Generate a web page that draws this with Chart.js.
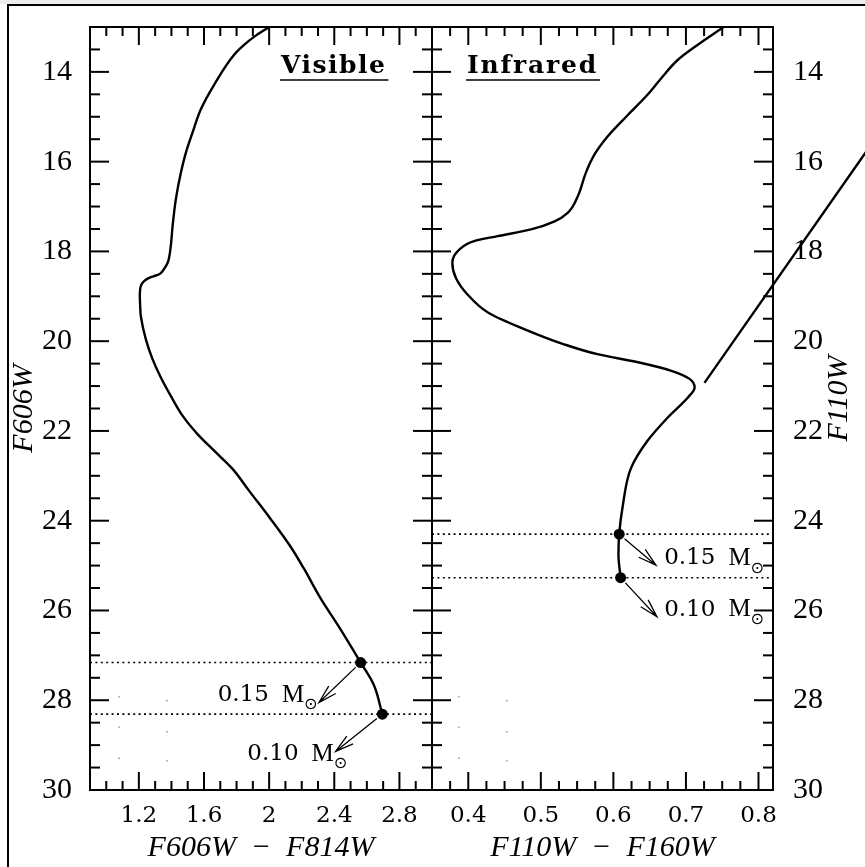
<!DOCTYPE html>
<html>
<head>
<meta charset="utf-8">
<script src="https://cdn.jsdelivr.net/npm/chart.js@4.4.1/dist/chart.umd.min.js"></script>
<style>
  html, body { margin: 0; padding: 0; background: #fff; }
  #wrap { position: relative; width: 865px; height: 867px; overflow: hidden; }
  #band { position: absolute; left: 0; top: 0; width: 865px; height: 4px; background: #eeeeee; }
  #frame { position: absolute; left: 7px; top: 4px; width: 900px; height: 900px;
           border-left: 2px solid #000; border-top: 2px solid #000; }
  canvas { position: absolute; left: 0; top: 0; }
</style>
</head>
<body>
<div id="wrap">
  <div id="band"></div>
  <div id="frame"></div>
  <canvas id="visChart" width="865" height="867"></canvas>
  <canvas id="irChart" width="865" height="867"></canvas>
</div>
<script>
// magnitude axis (shared)
const magTicks = [14, 16, 18, 20, 22, 24, 26, 28, 30];

// Visible panel: F606W vs F606W - F814W
const visColorTicks = [1.2, 1.6, 2, 2.4, 2.8];
const visColor = [2.0, 1.907, 1.846, 1.785, 1.662, 1.58, 1.529, 1.488, 1.458, 1.427, 1.407, 1.396,
  1.38, 1.366, 1.345, 1.325, 1.294, 1.263, 1.232, 1.212, 1.206, 1.208, 1.212, 1.243, 1.284, 1.335,
  1.396, 1.468, 1.56, 1.662, 1.774, 1.876, 2.009, 2.132, 2.214, 2.316, 2.428, 2.562, 2.643, 2.695];
const visMag = [13.0, 13.22, 13.4, 13.62, 14.29, 14.84, 15.36, 15.81, 16.25, 16.84, 17.44, 17.88,
  18.22, 18.33, 18.44, 18.51, 18.55, 18.59, 18.66, 18.77, 18.99, 19.22, 19.44, 19.96, 20.4, 20.81,
  21.22, 21.66, 22.07, 22.44, 22.84, 23.33, 23.96, 24.58, 25.07, 25.73, 26.36, 27.16, 27.66, 28.31];
const visMassColor = [2.562, 2.695];
const visMassMag = [27.16, 28.31];
const visTipColor = [2.306, 2.408];
const visTipMag = [28.05, 29.14];
const visLabelColor = [1.684, 1.866];
const visLabelMag = [27.89, 29.2];
const visFaintColor = [1.079, 1.372, 1.079, 1.372, 1.079, 1.372];
const visFaintMag = [27.92, 28.01, 28.6, 28.7, 29.29, 29.35];

// Infrared panel: F110W vs F110W - F160W
const irColorTicks = [0.4, 0.5, 0.6, 0.7, 0.8];
const irColor = [0.752, 0.716, 0.689, 0.666, 0.647, 0.62, 0.592, 0.574, 0.562, 0.551, 0.537, 0.519,
  0.4865, 0.4405, 0.408, 0.3876, 0.378, 0.383, 0.399, 0.427, 0.477, 0.532, 0.578, 0.634, 0.68,
  0.705, 0.712, 0.703, 0.675, 0.647, 0.624, 0.613, 0.608, 0.607, 0.61];
const irMag = [13.0, 13.4, 13.73, 14.14, 14.51, 14.96, 15.44, 15.84, 16.25, 16.77, 17.14, 17.33,
  17.51, 17.66, 17.77, 17.96, 18.25, 18.59, 18.96, 19.36, 19.73, 20.07, 20.29, 20.47, 20.66,
  20.84, 21.03, 21.25, 21.7, 22.22, 22.84, 23.66, 24.3, 24.77, 25.27];
const irMassColor = [0.608, 0.61];
const irMassMag = [24.3, 25.27];
const irTipColor = [0.6587, 0.66];
const irTipMag = [24.99, 26.14];
const irLabelColor = [0.67, 0.67];
const irLabelMag = [24.84, 25.98];
const irFaintColor = [0.387, 0.453, 0.387, 0.453, 0.387, 0.453];
const irFaintMag = [27.92, 28.01, 28.6, 28.7, 29.29, 29.35];
const strayColor = [0.7255, 0.96];
const strayMag = [20.93, 15.51];

const massLabels = ["0.15", "0.10"];

Chart.defaults.font.family = "'Liberation Serif', serif";
Chart.defaults.color = "#000";

const pts = (xs, ys) => xs.map((x, i) => ({ x: x, y: ys[i] }));
// pin axis sizes so the two panels share one edge
const fixed = (size) => (scale) => {
  if (scale.isHorizontal()) {
    scale.height = size;
    scale.paddingLeft = 0;
    scale.paddingRight = 0;
  } else {
    scale.width = size;
    scale.paddingTop = 0;
    scale.paddingBottom = 0;
  }
};

function range(from, to, step) {
  const out = [];
  for (let v = from; v <= to + 1e-9; v += step) out.push(+v.toFixed(4));
  return out;
}

// ticks pointing into the plot, drawn off the chart's own scales
const inwardTicks = {
  id: "inwardTicks",
  afterDraw(chart, args, o) {
    const { ctx, chartArea: a } = chart;
    const xs = chart.scales.x;
    const ys = chart.scales.y;
    ctx.save();
    ctx.strokeStyle = "#000";
    ctx.lineWidth = 2;
    const seg = (x1, y1, x2, y2) => {
      ctx.beginPath();
      ctx.moveTo(x1, y1);
      ctx.lineTo(x2, y2);
      ctx.stroke();
    };
    o.xMinor.forEach((v) => {
      const p = xs.getPixelForValue(v);
      const len = o.xMajor.some((m) => Math.abs(m - v) < 1e-6) ? 18 : 9;
      seg(p, a.bottom, p, a.bottom - len);
      seg(p, a.top, p, a.top + len);
    });
    range(13.5, 29.5, 0.5).forEach((v) => {
      const p = ys.getPixelForValue(v);
      const len = magTicks.includes(v) ? 19 : 10;
      seg(a.left, p, a.left + len, p);
      seg(a.right, p, a.right - len, p);
    });
    ctx.restore();
  },
};

function drawArrow(ctx, x1, y1, x2, y2) {
  const ang = Math.atan2(y2 - y1, x2 - x1);
  const sx = x1 + Math.cos(ang) * 7;
  const sy = y1 + Math.sin(ang) * 7;
  const h = 19, w = 0.27;
  ctx.beginPath();
  ctx.moveTo(sx, sy);
  ctx.lineTo(x2, y2);
  ctx.moveTo(x2 - h * Math.cos(ang - w), y2 - h * Math.sin(ang - w));
  ctx.lineTo(x2, y2);
  ctx.lineTo(x2 - h * Math.cos(ang + w), y2 - h * Math.sin(ang + w));
  ctx.stroke();
}

// panel title, arrows and mass labels
const annotations = {
  id: "annotations",
  afterDraw(chart, args, o) {
    const { ctx, chartArea: a } = chart;
    const xs = chart.scales.x;
    const ys = chart.scales.y;
    ctx.save();
    ctx.fillStyle = "#000";
    ctx.strokeStyle = "#000";

    ctx.font = "bold 25px 'DejaVu Serif'";
    ctx.letterSpacing = o.spacing;
    ctx.textAlign = "left";
    ctx.textBaseline = "alphabetic";
    const tx = a.left + o.titleDx;
    ctx.fillText(o.title, tx, a.top + 46);
    const tw = ctx.measureText(o.title).width;
    ctx.letterSpacing = "0px";
    ctx.lineWidth = 1.5;
    ctx.beginPath();
    ctx.moveTo(tx - 1, a.top + 53);
    ctx.lineTo(tx + tw + 2, a.top + 53);
    ctx.stroke();

    ctx.lineWidth = 1.3;
    o.massColor.forEach((c, i) => {
      drawArrow(ctx, xs.getPixelForValue(c), ys.getPixelForValue(o.massMag[i]),
        xs.getPixelForValue(o.tipColor[i]), ys.getPixelForValue(o.tipMag[i]));
    });

    ctx.textBaseline = "middle";
    massLabels.forEach((txt, i) => {
      const x = xs.getPixelForValue(o.labelColor[i]);
      const y = ys.getPixelForValue(o.labelMag[i]);
      ctx.font = "23px 'DejaVu Serif'";
      ctx.fillText(txt, x, y);
      const mx = x + ctx.measureText(txt).width + 13;
      ctx.font = "25px 'Liberation Serif'";
      ctx.fillText("M", mx, y);
      const mw = ctx.measureText("M").width;
      ctx.font = "16px 'DejaVu Sans'";
      ctx.fillText("\u2299", mx + mw, y + 10);
    });

    if (o.rightTitle) {
      ctx.font = "italic 30px 'Liberation Serif'";
      ctx.textAlign = "center";
      ctx.translate(839, (a.top + a.bottom) / 2 - 10);
      ctx.rotate(-Math.PI / 2);
      ctx.fillText(o.rightTitle, 0, 0);
    }
    ctx.restore();
  },
};

function buildScales(p) {
  const border = { display: true, color: "#000", width: 2 };
  const grid = { display: false, drawTicks: false };
  const setTicks = (vals) => (s) => { s.ticks = vals.map((v) => ({ value: v })); };
  const yBase = {
    type: "linear", reverse: true, min: 13, max: 30, grid: grid, border: border,
    afterBuildTicks: setTicks(magTicks),
  };
  return {
    x: {
      type: "linear", position: "bottom", min: p.xMin, max: p.xMax, grid: grid, border: border,
      afterBuildTicks: setTicks(p.xTicks),
      ticks: { font: { size: 23, family: "'DejaVu Serif'" }, padding: 12, maxRotation: 0, autoSkip: false,
        callback: (v) => String(v) },
      title: { display: true, text: p.xTitle, font: { size: 30, style: "italic" }, padding: { top: 0, bottom: 1 } },
      afterFit: fixed(77),
    },
    xTop: {
      type: "linear", position: "top", min: p.xMin, max: p.xMax, grid: grid, border: border,
      ticks: { display: false }, afterFit: fixed(27),
    },
    y: Object.assign({}, yBase, {
      position: "left",
      ticks: { display: p.leftLabels, font: { size: 30 }, padding: 18, callback: (v) => String(v) },
      title: { display: !!p.yTitle, text: p.yTitle || "", font: { size: 30, style: "italic" }, padding: { top: 6 } },
      afterFit: fixed(p.leftWidth),
    }),
    yRight: Object.assign({}, yBase, {
      position: "right",
      ticks: { display: p.rightLabels, font: { size: 30 }, padding: 20, callback: (v) => String(v) },
      afterFit: fixed(p.rightWidth),
    }),
  };
}

function buildDatasets(d) {
  return [
    { data: pts(d.color, d.mag), showLine: true, borderColor: "#000", borderWidth: 2.4,
      pointRadius: 0, cubicInterpolationMode: "monotone", fill: false },
    { data: pts(d.massColor, d.massMag), showLine: false, pointRadius: 5.5,
      pointBackgroundColor: "#000", pointBorderWidth: 0 },
    { data: pts([d.xMin, d.xMax], [d.massMag[0], d.massMag[0]]), showLine: true, borderColor: "#000",
      borderWidth: 1.6, borderDash: [2, 3.4], pointRadius: 0 },
    { data: pts([d.xMin, d.xMax], [d.massMag[1], d.massMag[1]]), showLine: true, borderColor: "#000",
      borderWidth: 1.6, borderDash: [2, 3.4], pointRadius: 0 },
    { data: pts(d.faintColor, d.faintMag), showLine: false, pointRadius: 1,
      pointBackgroundColor: "#aaa", pointBorderWidth: 0 },
  ];
}

// magnitude runs along the index axis, so the curves are smoothed monotone in magnitude
const common = {
  responsive: false,
  animation: false,
  events: [],
  indexAxis: "y",
  layout: { padding: 0 },
};

const visDatasets = buildDatasets({
  color: visColor, mag: visMag, massColor: visMassColor, massMag: visMassMag,
  faintColor: visFaintColor, faintMag: visFaintMag, xMin: 0.9, xMax: 3.0,
});

new Chart(document.getElementById("visChart"), {
  type: "scatter",
  data: { datasets: visDatasets },
  options: Object.assign({}, common, {
    scales: buildScales({
      xMin: 0.9, xMax: 3.0, xTicks: visColorTicks, xTitle: "F606W  \u2212  F814W",
      yTitle: "F606W", leftLabels: true, rightLabels: false, leftWidth: 90, rightWidth: 433,
    }),
    plugins: {
      legend: { display: false },
      tooltip: { enabled: false },
      inwardTicks: { xMajor: visColorTicks, xMinor: range(1.0, 2.9, 0.1) },
      annotations: {
        title: "Visible", titleDx: 191, spacing: "1.5px",
        massColor: visMassColor, massMag: visMassMag, tipColor: visTipColor, tipMag: visTipMag,
        labelColor: visLabelColor, labelMag: visLabelMag,
      },
    },
  }),
  plugins: [inwardTicks, annotations],
});

const irDatasets = buildDatasets({
  color: irColor, mag: irMag, massColor: irMassColor, massMag: irMassMag,
  faintColor: irFaintColor, faintMag: irFaintMag, xMin: 0.35, xMax: 0.82,
});
irDatasets.push({
  data: pts(strayColor, strayMag), showLine: true, borderColor: "#000", borderWidth: 2.4,
  pointRadius: 0, clip: false,
});

new Chart(document.getElementById("irChart"), {
  type: "scatter",
  data: { datasets: irDatasets },
  options: Object.assign({}, common, {
    scales: buildScales({
      xMin: 0.35, xMax: 0.82, xTicks: irColorTicks, xTitle: "F110W  \u2212  F160W",
      yTitle: null, leftLabels: false, rightLabels: true, leftWidth: 432, rightWidth: 92,
    }),
    plugins: {
      legend: { display: false },
      tooltip: { enabled: false },
      inwardTicks: { xMajor: irColorTicks, xMinor: range(0.375, 0.8, 0.025) },
      annotations: {
        title: "Infrared", titleDx: 35, spacing: "1.8px", rightTitle: "F110W",
        massColor: irMassColor, massMag: irMassMag, tipColor: irTipColor, tipMag: irTipMag,
        labelColor: irLabelColor, labelMag: irLabelMag,
      },
    },
  }),
  plugins: [inwardTicks, annotations],
});
</script>
</body>
</html>
